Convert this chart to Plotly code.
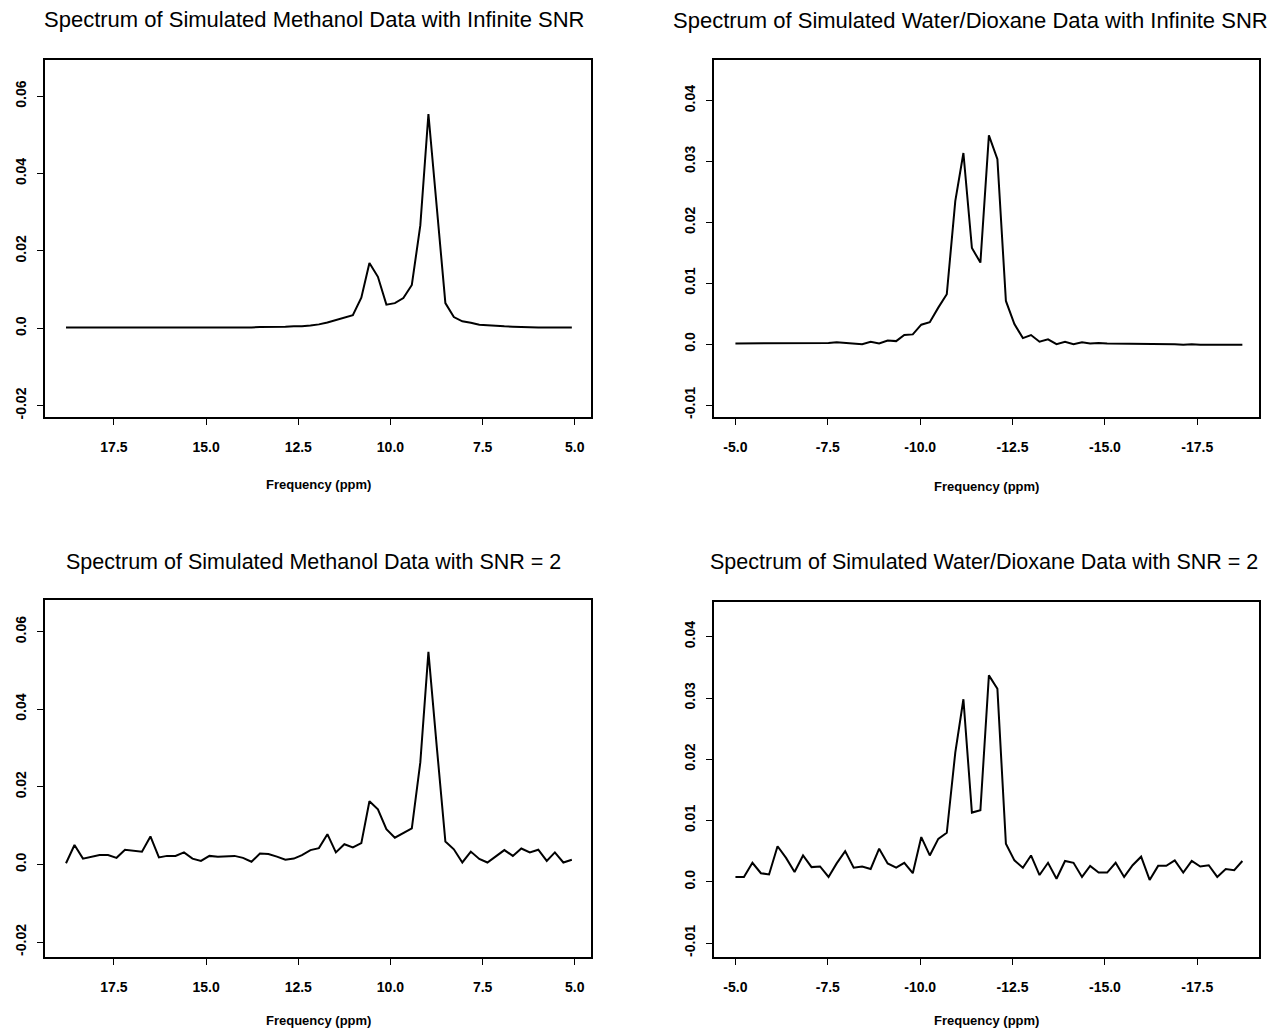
import plotly.graph_objects as go

# ---------------- data ----------------
freq_methanol = [18.80, 18.57, 18.34, 18.11, 17.89, 17.66, 17.43, 17.20, 16.97, 16.74,
                 16.51, 16.28, 16.06, 15.83, 15.60, 15.37, 15.14, 14.91, 14.68, 14.45,
                 14.23, 14.00, 13.77, 13.54, 13.31, 13.08, 12.85, 12.62, 12.40, 12.17,
                 11.94, 11.71, 11.48, 11.25, 11.02, 10.79, 10.57, 10.34, 10.11, 9.88,
                 9.65, 9.42, 9.19, 8.97, 8.74, 8.51, 8.28, 8.05, 7.82, 7.59,
                 7.37, 7.14, 6.91, 6.68, 6.45, 6.22, 5.99, 5.76, 5.54, 5.31, 5.08]

methanol_inf = [0.0002, 0.0002, 0.0002, 0.0002, 0.0001, 0.0001, 0.0001, 0.0001, 0.0001, 0.0001,
                0.0001, 0.0001, 0.0001, 0.0001, 0.0001, 0.0001, 0.0001, 0.0001, 0.0001, 0.0001,
                0.0002, 0.0002, 0.0002, 0.0003, 0.0003, 0.0004, 0.0004, 0.0005, 0.0005, 0.0007,
                0.0010, 0.0015, 0.0021, 0.0027, 0.0034, 0.0079, 0.0169, 0.0133, 0.0061, 0.0065,
                0.0078, 0.0112, 0.0266, 0.0554, 0.0304, 0.0065, 0.0029, 0.0018, 0.0014, 0.0009,
                0.0008, 0.0006, 0.0005, 0.0004, 0.0003, 0.0003, 0.0002, 0.0002, 0.0002, 0.0002, 0.0002]

methanol_snr2 = [0.0003, 0.0050, 0.0015, 0.0020, 0.0024, 0.0024, 0.0017, 0.0038, 0.0035, 0.0033,
                 0.0072, 0.0018, 0.0022, 0.0022, 0.0031, 0.0015, 0.0009, 0.0022, 0.0020, 0.0021,
                 0.0022, 0.0017, 0.0007, 0.0028, 0.0027, 0.0020, 0.0012, 0.0015, 0.0024, 0.0037,
                 0.0042, 0.0078, 0.0031, 0.0052, 0.0044, 0.0055, 0.0163, 0.0142, 0.0091, 0.0069,
                 0.0082, 0.0093, 0.0263, 0.0548, 0.0300, 0.0059, 0.0039, 0.0005, 0.0033, 0.0014,
                 0.0005, 0.0021, 0.0037, 0.0022, 0.0041, 0.0031, 0.0038, 0.0009, 0.0031, 0.0005, 0.0012]

freq_water = [-5.00, -5.23, -5.46, -5.69, -5.91, -6.14, -6.37, -6.60, -6.83, -7.06,
              -7.29, -7.52, -7.74, -7.97, -8.20, -8.43, -8.66, -8.89, -9.12, -9.35,
              -9.57, -9.80, -10.03, -10.26, -10.49, -10.72, -10.95, -11.17, -11.40, -11.63,
              -11.86, -12.09, -12.32, -12.55, -12.78, -13.00, -13.23, -13.46, -13.69, -13.92,
              -14.15, -14.38, -14.60, -14.83, -15.06, -15.29, -15.52, -15.75, -15.98, -16.21,
              -16.44, -16.66, -16.89, -17.12, -17.35, -17.58, -17.81, -18.04, -18.27, -18.50, -18.72]

water_inf = [0.0001, 0.0001, 0.0001, 0.0001, 0.0001, 0.0001, 0.0001, 0.0001, 0.0001, 0.0001,
             0.0002, 0.0002, 0.0003, 0.0002, 0.0002, 0.0000, 0.0004, 0.0001, 0.0006, 0.0005,
             0.0015, 0.0016, 0.0032, 0.0036, 0.0060, 0.0082, 0.0235, 0.0314, 0.0158, 0.0134,
             0.0343, 0.0304, 0.0071, 0.0033, 0.0010, 0.0015, 0.0004, 0.0008, 0.0000, 0.0004,
             0.0000, 0.0003, 0.0001, 0.0002, 0.0001, 0.0001, 0.0000, 0.0001, 0.0000, 0.0000,
             0.0000, 0.0000, 0.0000, -0.0001, 0.0000, -0.0001, -0.0001, -0.0001, -0.0001, -0.0001, -0.0001]

water_snr2 = [0.0008, 0.0008, 0.0031, 0.0014, 0.0012, 0.0058, 0.0039, 0.0016, 0.0043, 0.0024,
              0.0025, 0.0008, 0.0030, 0.0050, 0.0023, 0.0025, 0.0021, 0.0054, 0.0030, 0.0023,
              0.0031, 0.0014, 0.0073, 0.0043, 0.0070, 0.0080, 0.0211, 0.0298, 0.0113, 0.0117,
              0.0337, 0.0315, 0.0062, 0.0035, 0.0023, 0.0043, 0.0011, 0.0031, 0.0005, 0.0034,
              0.0031, 0.0008, 0.0026, 0.0015, 0.0015, 0.0031, 0.0008, 0.0027, 0.0041, 0.0003,
              0.0026, 0.0026, 0.0035, 0.0015, 0.0034, 0.0025, 0.0027, 0.0008, 0.0021, 0.0019, 0.0034]

titles = ["Spectrum of Simulated Methanol Data with Infinite SNR",
          "Spectrum of Simulated Water/Dioxane Data with Infinite SNR",
          "Spectrum of Simulated Methanol Data with SNR = 2",
          "Spectrum of Simulated Water/Dioxane Data with SNR = 2"]
xlabel = "Frequency (ppm)"

methanol_xticks = [17.5, 15.0, 12.5, 10.0, 7.5, 5.0]
methanol_xtext = ["17.5", "15.0", "12.5", "10.0", "7.5", "5.0"]
water_xticks = [-5.0, -7.5, -10.0, -12.5, -15.0, -17.5]
water_xtext = ["-5.0", "-7.5", "-10.0", "-12.5", "-15.0", "-17.5"]
methanol_yticks = [-0.02, 0.0, 0.02, 0.04, 0.06]
methanol_ytext = ["-0.02", "0.0", "0.02", "0.04", "0.06"]
water_yticks = [-0.01, 0.0, 0.01, 0.02, 0.03, 0.04]
water_ytext = ["-0.01", "0.0", "0.01", "0.02", "0.03", "0.04"]

# ---------------- layout geometry (pixels) ----------------
W, H = 1280, 1035
FONT = "Liberation Sans, Arial, Helvetica, sans-serif"

panels = [
    dict(x=freq_methanol, y=methanol_inf, px=(45, 591), py=(60, 418),
         xr=[19.37, 4.56], yr=[-0.0230, 0.0694],
         xt=methanol_xticks, xtt=methanol_xtext, yt=methanol_yticks, ytt=methanol_ytext,
         title_xy=(314, 20), title_size=22, lab_y=485),
    dict(x=freq_water, y=water_inf, px=(714, 1259), py=(60, 418),
         xr=[-4.42, -19.17], yr=[-0.0120, 0.0467],
         xt=water_xticks, xtt=water_xtext, yt=water_yticks, ytt=water_ytext,
         title_xy=(970, 21), title_size=22, lab_y=487),
    dict(x=freq_methanol, y=methanol_snr2, px=(45, 591), py=(601, 959),
         xr=[19.37, 4.56], yr=[-0.0239, 0.0682],
         xt=methanol_xticks, xtt=methanol_xtext, yt=methanol_yticks, ytt=methanol_ytext,
         title_xy=(313, 563), title_size=21.5, lab_y=1022),
    dict(x=freq_water, y=water_snr2, px=(714, 1259), py=(603, 959),
         xr=[-4.42, -19.17], yr=[-0.0123, 0.0457],
         xt=water_xticks, xtt=water_xtext, yt=water_yticks, ytt=water_ytext,
         title_xy=(984, 563), title_size=21.5, lab_y=1022),
]

fig = go.Figure()
layout = dict(width=W, height=H, autosize=False,
              margin=dict(l=0, r=0, t=0, b=0, pad=0),
              paper_bgcolor="white", plot_bgcolor="white",
              showlegend=False, font=dict(family=FONT, color="black"))
annotations = []

tickfont = dict(family=FONT, size=14, color="black", weight="bold")

for i, p in enumerate(panels, start=1):
    sx = "" if i == 1 else str(i)
    fig.add_trace(go.Scatter(x=p["x"], y=p["y"], mode="lines",
                             line=dict(color="black", width=2),
                             xaxis="x" + sx, yaxis="y" + sx, hoverinfo="skip"))
    xd = [p["px"][0] / W, p["px"][1] / W]
    yd = [1 - p["py"][1] / H, 1 - p["py"][0] / H]
    layout["xaxis" + sx] = dict(domain=xd, range=p["xr"], anchor="y" + sx,
                                showgrid=False, zeroline=False,
                                showline=True, mirror=True, linecolor="black", linewidth=1.6,
                                ticks="outside", ticklen=6, tickwidth=1.4, tickcolor="black",
                                tickvals=p["xt"], ticktext=p["xtt"],
                                tickfont=tickfont, ticklabelstandoff=10)
    layout["yaxis" + sx] = dict(domain=yd, range=p["yr"], anchor="x" + sx,
                                showgrid=False, zeroline=False,
                                showline=True, mirror=True, linecolor="black", linewidth=1.6,
                                ticks="outside", ticklen=6, tickwidth=1.4, tickcolor="black",
                                tickvals=p["yt"], ticktext=p["ytt"], tickangle=-90,
                                tickfont=tickfont, ticklabelstandoff=6)
    annotations.append(dict(text=titles[i - 1], xref="paper", yref="paper",
                            x=p["title_xy"][0] / W, y=1 - p["title_xy"][1] / H,
                            xanchor="center", yanchor="middle", showarrow=False,
                            font=dict(family=FONT, size=p["title_size"], color="black")))
    annotations.append(dict(text=xlabel, xref="paper", yref="paper",
                            x=(p["px"][0] + p["px"][1]) / 2 / W, y=1 - p["lab_y"] / H,
                            xanchor="center", yanchor="middle", showarrow=False,
                            font=dict(family=FONT, size=13, color="black", weight="bold")))

layout["annotations"] = annotations
fig.update_layout(**layout)
fig.write_html("out.html")
